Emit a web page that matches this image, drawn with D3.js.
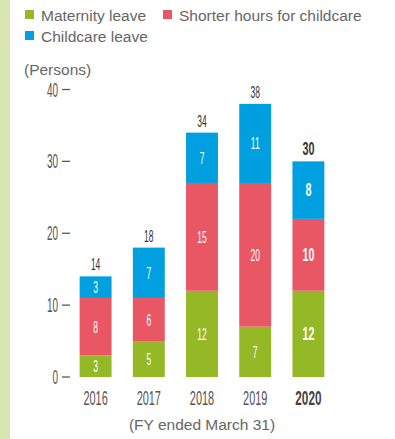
<!DOCTYPE html>
<html>
<head>
<meta charset="utf-8">
<script src="https://cdn.jsdelivr.net/npm/d3@7"></script>
<style>
  body { margin: 0; background: #fff; }
  svg { display: block; font-family: "Liberation Sans", Arial, sans-serif; }
</style>
</head>
<body>
<div id="chart"></div>
<script>
let width = 395;
let height = 439;

// data
let years = ["2016", "2017", "2018", "2019", "2020"];
let maternity = [3, 5, 12, 7, 12];
let shorter = [8, 6, 15, 20, 10];
let childcare = [3, 7, 7, 11, 8];
let totals = [14, 18, 34, 38, 30];
let yTicks = [0, 10, 20, 30, 40];

let seriesNames = ["Maternity leave", "Shorter hours for childcare", "Childcare leave"];
let colors = ["#94b826", "#e95664", "#009fe0"];

let svg = d3.select("#chart").append("svg")
            .attr("width", width)
            .attr("height", height);

// side strip
svg.append("rect").attr("x", 0).attr("y", 0).attr("width", 10).attr("height", height)
   .attr("fill", "#dbe5b2");

let x = d3.scaleBand().domain(years).range([69, 335]).paddingInner(0.4).paddingOuter(0.2);
let y = d3.scaleLinear().domain([0, 40]).range([377, 89.5]);

// condensed text helper
function ctext(g, tx, ty, str, size, fill, weight, anchor, sx) {
    return g.append("text")
            .attr("transform", "translate(" + tx + "," + ty + ") scale(" + sx + ",1)")
            .attr("text-anchor", anchor)
            .attr("font-size", size)
            .attr("font-weight", weight)
            .attr("fill", fill)
            .text(str);
}

// y axis ticks
let axis = svg.append("g");
for (let t of yTicks) {
    axis.append("line").attr("x1", 62).attr("x2", 70)
        .attr("y1", y(t)).attr("y2", y(t))
        .attr("stroke", "#3d6e3a").attr("stroke-width", 1.3);
    ctext(axis, 58, y(t) + 7, t, 20, "#555", "normal", "end", 0.5);
}

// stacks
let rows = years.map((yr, i) => ({year: yr, m: maternity[i], s: shorter[i], c: childcare[i]}));
let stack = d3.stack().keys(["m", "s", "c"])(rows);

let bars = svg.append("g");
stack.forEach((layer, k) => {
    bars.selectAll(null).data(layer).enter().append("rect")
        .attr("x", d => x(d.data.year))
        .attr("y", d => y(d[1]))
        .attr("width", x.bandwidth())
        .attr("height", d => y(d[0]) - y(d[1]))
        .attr("fill", colors[k]);
    layer.forEach(d => {
        let last = d.data.year == "2020";
        ctext(bars, x(d.data.year) + x.bandwidth() / 2, (y(d[0]) + y(d[1])) / 2 + 6,
              d[1] - d[0], last ? 18 : 17, "#fff", last ? "bold" : "normal", "middle", last ? 0.6 : 0.5);
    });
});

// totals and year labels
years.forEach((yr, i) => {
    let last = yr == "2020";
    let cx = x(yr) + x.bandwidth() / 2;
    ctext(svg, cx, y(totals[i]) - 6, totals[i], last ? 18 : 17, "#333", last ? "bold" : "normal", "middle", last ? 0.6 : 0.5);
    ctext(svg, cx, 405, yr, 21, last ? "#444" : "#555", last ? "bold" : "normal", "middle", last ? 0.56 : 0.52);
});

// legend
let legend = svg.append("g").attr("font-size", 15.5).attr("fill", "#666");
let legendPos = [[25, 19], [163, 19], [25, 40]];
seriesNames.forEach((n, i) => {
    legend.append("rect").attr("x", legendPos[i][0]).attr("y", legendPos[i][1] - 9)
          .attr("width", 9).attr("height", 9).attr("fill", colors[i]);
    legend.append("text").attr("x", legendPos[i][0] + 16).attr("y", legendPos[i][1] + 2).text(n);
});

svg.append("text").attr("x", 24).attr("y", 75).attr("font-size", 15.5).attr("fill", "#666")
   .text("(Persons)");
svg.append("text").attr("x", 202).attr("y", 430).attr("text-anchor", "middle")
   .attr("font-size", 15.5).attr("fill", "#666").text("(FY ended March 31)");
</script>
</body>
</html>
